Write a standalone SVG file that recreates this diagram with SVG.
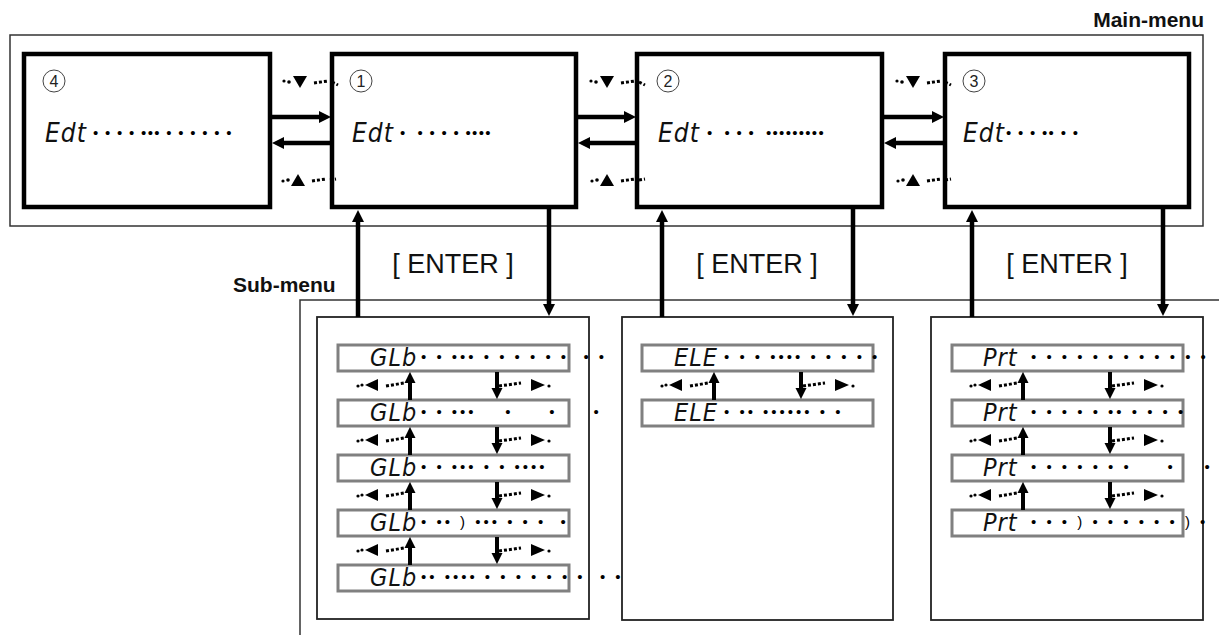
<svg xmlns="http://www.w3.org/2000/svg" xmlns:xlink="http://www.w3.org/1999/xlink" width="1219" height="635" viewBox="0 0 1219 635">
<style>
.frame{fill:none;stroke:#333;stroke-width:1.5}
.mbox{fill:#fff;stroke:#000;stroke-width:4.5}
.sbox{fill:#fff;stroke:#222;stroke-width:1.8}
.lcd{fill:#fff;stroke:#808080;stroke-width:3}
.conn{fill:none;stroke:#000;stroke-width:4.5}
.sconn{fill:none;stroke:#000;stroke-width:4}
.hdr{font-family:"Liberation Sans",Arial,sans-serif;font-weight:bold;font-size:21px;fill:#111}
.enter{font-family:"Liberation Sans",Arial,sans-serif;font-size:27px;fill:#111}
.seg{font-family:"DejaVu Sans Condensed","DejaVu Sans",sans-serif;font-style:oblique;font-weight:200;font-size:26px;fill:#111;letter-spacing:1px}
.sseg{font-family:"DejaVu Sans Condensed","DejaVu Sans",sans-serif;font-style:oblique;font-weight:200;font-size:25px;fill:#111;letter-spacing:1px}
.dots{font-family:"Liberation Sans",Arial,sans-serif;font-size:15px;fill:#000;white-space:pre;letter-spacing:1.3px}
.sdots{font-family:"Liberation Sans",Arial,sans-serif;font-size:15px;fill:#000;white-space:pre;letter-spacing:3px}
.num{font-family:"Liberation Sans",Arial,sans-serif;font-size:16px;fill:#222;text-anchor:middle}
.ring{fill:none;stroke:#444;stroke-width:1}
.dash{fill:none;stroke:#000;stroke-width:3;stroke-dasharray:3 2}
</style>
<defs>
<marker id="ah" viewBox="0 0 12 12" refX="1" refY="6" markerWidth="12" markerHeight="12" markerUnits="userSpaceOnUse" orient="auto"><path d="M0,0 L12,6 L0,12 z" fill="#000"/></marker>
<marker id="ahs" viewBox="0 0 12 12" refX="1" refY="6" markerWidth="11" markerHeight="12" markerUnits="userSpaceOnUse" orient="auto"><path d="M0,0 L12,6 L0,12 z" fill="#000"/></marker>
<g id="navDown"><circle cx="-16" cy="-1" r="1.6"/><circle cx="-11" cy="0" r="1.8"/><polygon points="-7,-6 7,-6 0,6"/><path class="dash" d="M14,1 L28,-1 M32,0 L38,3"/></g>
<g id="navUp"><circle cx="-15" cy="1" r="1.6"/><circle cx="-10" cy="0" r="1.8"/><polygon points="-7,6 7,6 0,-6"/><path class="dash" d="M14,1 L28,-1 M32,0 L38,-1"/></g>
<g id="navL"><circle cx="-14" cy="1" r="1.6"/><circle cx="-10" cy="0" r="1.6"/><polygon points="-7,0 6,-6 6,6"/><path class="dash" d="M14,1 L32,-2"/></g>
<g id="navR"><path class="dash" d="M-38,1 L-16,-2"/><polygon points="-6,-6 -6,6 8,0"/><circle cx="12" cy="1" r="1.6"/></g>
</defs>

<g id="main-menu-frame">
<rect class="frame" x="10" y="35" width="1193" height="191"/>
<text class="hdr" x="1204" y="27" text-anchor="end">Main-menu</text>
</g>

<g id="sub-menu-frame">
<path class="frame" d="M1219,300 L300,300 L300,635"/>
<text class="hdr" x="233" y="292">Sub-menu</text>
</g>

<g id="node-main4">
<rect class="mbox" x="24" y="54" width="246" height="153"/>
<circle class="ring" cx="54" cy="81" r="11"/><text class="num" x="54" y="87">4</text>
<text class="seg" x="45" y="142">Edt</text>
<text class="dots" x="93" y="138">• • • • ••• • • • • • •</text>
</g>
<g id="node-main1">
<rect class="mbox" x="332" y="54" width="244" height="153"/>
<circle class="ring" cx="361" cy="81" r="11"/><text class="num" x="361" y="87">1</text>
<text class="seg" x="352" y="142">Edt</text>
<text class="dots" x="400" y="138">•  • • • • ••••</text>
</g>
<g id="node-main2">
<rect class="mbox" x="637" y="54" width="245" height="153"/>
<circle class="ring" cx="668" cy="81" r="11"/><text class="num" x="668" y="87">2</text>
<text class="seg" x="658" y="142">Edt</text>
<text class="dots" x="707" y="138">•  • • •  •••••••••</text>
</g>
<g id="node-main3">
<rect class="mbox" x="945" y="54" width="244" height="153"/>
<circle class="ring" cx="974" cy="81" r="11"/><text class="num" x="974" y="87">3</text>
<text class="seg" x="963" y="142">Edt</text>
<text class="dots" x="1006" y="138">• • • •• • •</text>
</g>

<g id="node-sub1">
<rect class="sbox" x="317" y="317" width="272" height="302"/>
<rect class="lcd" x="338" y="345" width="231" height="26"/>
<rect class="lcd" x="338" y="400" width="231" height="26"/>
<rect class="lcd" x="338" y="455" width="231" height="26"/>
<rect class="lcd" x="338" y="510" width="231" height="26"/>
<rect class="lcd" x="338" y="565" width="231" height="26"/>
<text class="sseg" x="370" y="366">GLb</text>
<text class="sseg" x="370" y="421">GLb</text>
<text class="sseg" x="370" y="476">GLb</text>
<text class="sseg" x="370" y="531">GLb</text>
<text class="sseg" x="370" y="586">GLb</text>
<text class="sdots" x="421" y="362">• • ••• • • • • • •  • •</text>
<text class="sdots" x="421" y="417">• • •••    •     •     •</text>
<text class="sdots" x="421" y="472">• • ••• • • ••••</text>
<text class="sdots" x="421" y="527">• •• ) ••• • • •  •</text>
<text class="sdots" x="421" y="582">•• •••• • • • • • • •  • •</text>
</g>
<g id="node-sub2">
<rect class="sbox" x="622" y="317" width="271" height="303"/>
<rect class="lcd" x="642" y="345" width="231" height="26"/>
<rect class="lcd" x="642" y="400" width="231" height="26"/>
<text class="sseg" x="674" y="366">ELE</text>
<text class="sseg" x="674" y="421">ELE</text>
<text class="sdots" x="724" y="362">• • • •••• • • • • •</text>
<text class="sdots" x="724" y="417">• •• •••••• • •</text>
</g>
<g id="node-sub3">
<rect class="sbox" x="931" y="317" width="272" height="303"/>
<rect class="lcd" x="952" y="345" width="231" height="26"/>
<rect class="lcd" x="952" y="400" width="231" height="26"/>
<rect class="lcd" x="952" y="455" width="231" height="26"/>
<rect class="lcd" x="952" y="510" width="231" height="26"/>
<text class="sseg" x="983" y="366">Prt</text>
<text class="sseg" x="983" y="421">Prt</text>
<text class="sseg" x="983" y="476">Prt</text>
<text class="sseg" x="983" y="531">Prt</text>
<text class="sdots" x="1031" y="362">• • • • • • • • • • • •</text>
<text class="sdots" x="1031" y="417">• • • • • •• • • • •</text>
<text class="sdots" x="1031" y="472">• • • • • • •     •    •</text>
<text class="sdots" x="1031" y="527">• • • ) • • • • • • ) •</text>
</g>

<g id="connectors">
<g id="main-horizontal">
<line class="conn" x1="271" y1="117" x2="320" y2="117" marker-end="url(#ah)"/>
<line class="conn" x1="331" y1="143" x2="283" y2="143" marker-end="url(#ah)"/>
<line class="conn" x1="578" y1="117" x2="625" y2="117" marker-end="url(#ah)"/>
<line class="conn" x1="636" y1="143" x2="589" y2="143" marker-end="url(#ah)"/>
<line class="conn" x1="884" y1="117" x2="933" y2="117" marker-end="url(#ah)"/>
<line class="conn" x1="944" y1="143" x2="895" y2="143" marker-end="url(#ah)"/>
<use xlink:href="#navDown" x="300" y="82"/>
<use xlink:href="#navUp" x="298" y="180"/>
<use xlink:href="#navDown" x="607" y="82"/>
<use xlink:href="#navUp" x="607" y="180"/>
<use xlink:href="#navDown" x="913" y="82"/>
<use xlink:href="#navUp" x="913" y="180"/>
</g>
<g id="enter-links">
<line class="conn" x1="358" y1="317" x2="358" y2="221" marker-end="url(#ah)"/>
<line class="conn" x1="549" y1="209" x2="549" y2="305" marker-end="url(#ah)"/>
<line class="conn" x1="662" y1="317" x2="662" y2="221" marker-end="url(#ah)"/>
<line class="conn" x1="853" y1="209" x2="853" y2="305" marker-end="url(#ah)"/>
<line class="conn" x1="972" y1="317" x2="972" y2="221" marker-end="url(#ah)"/>
<line class="conn" x1="1163" y1="209" x2="1163" y2="305" marker-end="url(#ah)"/>
<text class="enter" x="453" y="273" text-anchor="middle">[ ENTER ]</text>
<text class="enter" x="757" y="273" text-anchor="middle">[ ENTER ]</text>
<text class="enter" x="1067" y="273" text-anchor="middle">[ ENTER ]</text>
</g>
<g id="sub-links">
<line class="sconn" x1="410" y1="400" x2="410" y2="382" marker-end="url(#ahs)"/>
<line class="sconn" x1="497" y1="372" x2="497" y2="389" marker-end="url(#ahs)"/>
<use xlink:href="#navL" x="372" y="385"/><use xlink:href="#navR" x="537" y="385"/>
<line class="sconn" x1="410" y1="455" x2="410" y2="437" marker-end="url(#ahs)"/>
<line class="sconn" x1="497" y1="427" x2="497" y2="444" marker-end="url(#ahs)"/>
<use xlink:href="#navL" x="372" y="440"/><use xlink:href="#navR" x="537" y="440"/>
<line class="sconn" x1="410" y1="510" x2="410" y2="492" marker-end="url(#ahs)"/>
<line class="sconn" x1="497" y1="482" x2="497" y2="499" marker-end="url(#ahs)"/>
<use xlink:href="#navL" x="372" y="495"/><use xlink:href="#navR" x="537" y="495"/>
<line class="sconn" x1="410" y1="565" x2="410" y2="547" marker-end="url(#ahs)"/>
<line class="sconn" x1="497" y1="537" x2="497" y2="554" marker-end="url(#ahs)"/>
<use xlink:href="#navL" x="372" y="550"/><use xlink:href="#navR" x="537" y="550"/>

<line class="sconn" x1="714" y1="400" x2="714" y2="382" marker-end="url(#ahs)"/>
<line class="sconn" x1="801" y1="372" x2="801" y2="389" marker-end="url(#ahs)"/>
<use xlink:href="#navL" x="676" y="385"/><use xlink:href="#navR" x="841" y="385"/>

<line class="sconn" x1="1023" y1="400" x2="1023" y2="382" marker-end="url(#ahs)"/>
<line class="sconn" x1="1110" y1="372" x2="1110" y2="389" marker-end="url(#ahs)"/>
<use xlink:href="#navL" x="985" y="385"/><use xlink:href="#navR" x="1150" y="385"/>
<line class="sconn" x1="1023" y1="455" x2="1023" y2="437" marker-end="url(#ahs)"/>
<line class="sconn" x1="1110" y1="427" x2="1110" y2="444" marker-end="url(#ahs)"/>
<use xlink:href="#navL" x="985" y="440"/><use xlink:href="#navR" x="1150" y="440"/>
<line class="sconn" x1="1023" y1="510" x2="1023" y2="492" marker-end="url(#ahs)"/>
<line class="sconn" x1="1110" y1="482" x2="1110" y2="499" marker-end="url(#ahs)"/>
<use xlink:href="#navL" x="985" y="495"/><use xlink:href="#navR" x="1150" y="495"/>
</g>
</g>
</svg>
